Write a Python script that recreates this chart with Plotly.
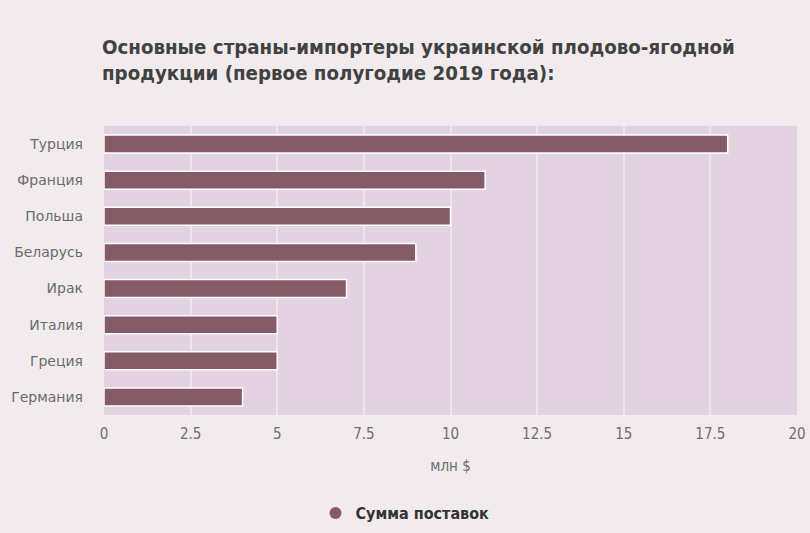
import plotly.graph_objects as go

countries = ["Турция", "Франция", "Польша", "Беларусь", "Ирак", "Италия", "Греция", "Германия"]
values = [18, 11, 10, 9, 7, 5, 5, 4]
series_name = "Сумма поставок"
x_ticks = [0, 2.5, 5, 7.5, 10, 12.5, 15, 17.5, 20]
x_tick_labels = ["0", "2.5", "5", "7.5", "10", "12.5", "15", "17.5", "20"]

bar_color = "#845b67"
cond = "DejaVu Sans Condensed, Liberation Sans Narrow, Roboto Condensed, sans-serif"

fig = go.Figure()
fig.add_trace(go.Bar(
    y=countries, x=values, orientation="h",
    marker=dict(color=bar_color, line=dict(color="white", width=1.5)),
    width=0.5, showlegend=False, name=series_name,
))
fig.add_trace(go.Scatter(
    x=[None], y=[None], mode="markers", name=series_name,
    marker=dict(symbol="circle", size=14, color=bar_color),
))

fig.update_layout(
    width=810, height=533,
    margin=dict(l=104, r=13, t=126, b=118, autoexpand=False),
    paper_bgcolor="#f1ebee",
    plot_bgcolor="#e3d3e2",
    title=dict(
        text="Основные страны-импортеры украинской плодово-ягодной<br>продукции (первое полугодие 2019 года):",
        x=102/810, xanchor="left", xref="container",
        y=1-54/533, yanchor="middle", yref="container",
        font=dict(family=cond, size=20.3, color="#414141", weight="bold"),
    ),
    xaxis=dict(
        range=[0, 20], tickvals=x_ticks, ticktext=x_tick_labels,
        showgrid=True, gridcolor="#ece5ea", gridwidth=2, zeroline=False,
        tickfont=dict(family=cond, size=15, color="#6e6e6e"),
        title=dict(text="млн $", font=dict(family=cond, size=15, color="#6e6e6e"), standoff=18),
        ticks="", ticklabelstandoff=8, automargin=False,
    ),
    yaxis=dict(
        categoryorder="array", categoryarray=countries[::-1],
        showgrid=False, zeroline=False,
        tickfont=dict(family="DejaVu Sans", size=14, color="#6b6b6b"),
        ticks="", ticklabelstandoff=20, automargin=False,
    ),
    legend=dict(
        orientation="h", x=0.5, xanchor="center", xref="container",
        y=1-513/533, yanchor="middle", yref="container",
        font=dict(family=cond, size=16, color="#333333", weight="bold"),
        itemsizing="constant",
    ),
    bargap=0.5,
)

fig.write_html("out.html")
